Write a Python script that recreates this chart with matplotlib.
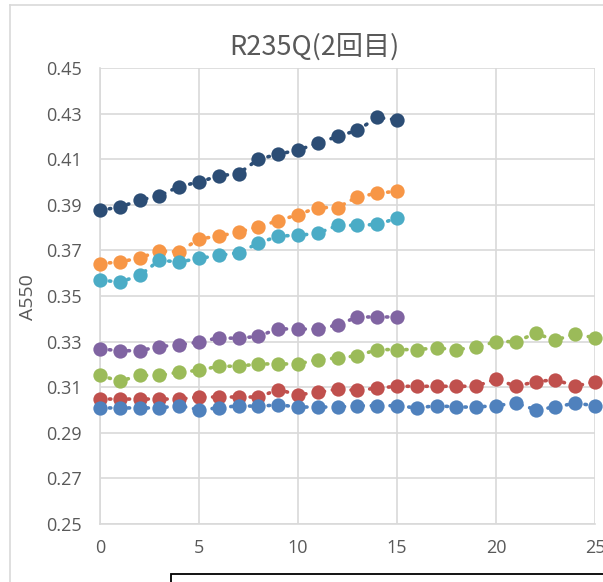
import matplotlib
matplotlib.use('Agg')
from matplotlib import pyplot as plt
from matplotlib.lines import Line2D
from matplotlib.patches import Rectangle

plt.rcParams['font.family'] = ['Noto Sans CJK JP', 'DejaVu Sans']

# Time points
x_short = list(range(16))
x_long = list(range(26))

# A550 readings per series
navy = [0.3876, 0.389, 0.392, 0.394, 0.398, 0.400, 0.4027, 0.4037, 0.410,
        0.4122, 0.414, 0.417, 0.420, 0.4227, 0.4283, 0.4273]
orange = [0.3642, 0.3649, 0.3667, 0.3697, 0.3694, 0.3750, 0.3763, 0.378,
          0.3804, 0.383, 0.3857, 0.3888, 0.3888, 0.3935, 0.395, 0.396]
cyan = [0.357, 0.3561, 0.359, 0.3657, 0.3649, 0.3665, 0.3678, 0.369,
        0.3731, 0.3763, 0.3766, 0.3775, 0.381, 0.381, 0.3814, 0.3841]
purple = [0.3268, 0.326, 0.326, 0.3278, 0.3286, 0.3298, 0.3317, 0.3314,
          0.3324, 0.3356, 0.3355, 0.3355, 0.3373, 0.3408, 0.3408, 0.3408]
green = [0.3152, 0.3126, 0.3152, 0.3152, 0.3166, 0.3174, 0.3192, 0.3192,
         0.3202, 0.3202, 0.3202, 0.3221, 0.3228, 0.3238, 0.3265, 0.3265,
         0.3265, 0.3272, 0.3265, 0.3275, 0.330, 0.330, 0.3336, 0.3306,
         0.3334, 0.3316]
red = [0.3048, 0.3048, 0.3048, 0.3048, 0.3048, 0.3057, 0.3057, 0.3057,
       0.3057, 0.3089, 0.3067, 0.3077, 0.3092, 0.3086, 0.3096, 0.3104,
       0.3104, 0.3104, 0.3104, 0.3104, 0.3136, 0.3104, 0.3124, 0.3133,
       0.3104, 0.3124]
blue = [0.3009, 0.3009, 0.3009, 0.3009, 0.3019, 0.3001, 0.3009, 0.3019,
        0.3016, 0.3023, 0.3013, 0.3013, 0.3013, 0.3019, 0.3019, 0.3019,
        0.3009, 0.3019, 0.3013, 0.3013, 0.3019, 0.3030, 0.3001, 0.3013,
        0.3030, 0.3019]

x_ticks = [0, 5, 10, 15, 20, 25]
y_ticks = [0.25, 0.27, 0.29, 0.31, 0.33, 0.35, 0.37, 0.39, 0.41, 0.43, 0.45]

series = [
    (x_short, navy, '#2C4D75'),
    (x_short, orange, '#F79646'),
    (x_short, cyan, '#4BACC6'),
    (x_short, purple, '#8064A2'),
    (x_long, green, '#9BBB59'),
    (x_long, red, '#C0504D'),
    (x_long, blue, '#4F81BD'),
]

fig = plt.figure(figsize=(6.03, 5.82), dpi=100)
ax = fig.add_axes([100 / 603, 1 - 524 / 582, 495 / 603, 456 / 582])

for xs, ys, c in series:
    ax.plot(xs, ys, color=c, linestyle=(0, (0.4, 2.2)), linewidth=2.6,
            dash_capstyle='round', clip_on=False, zorder=3)
    ax.plot(xs, ys, 'o', color=c, markersize=10.3, markeredgewidth=0,
            clip_on=False, zorder=4)

ax.set_xlim(0, 25)
ax.set_ylim(0.25, 0.45)
ax.set_xticks(x_ticks)
ax.set_yticks(y_ticks)
ax.set_yticklabels([f'{v:.2f}' for v in y_ticks])
ax.grid(True, color='#D9D9D9', linewidth=1.2, zorder=0)
ax.set_axisbelow(True)
for side in ['top', 'right']:
    ax.spines[side].set_visible(False)
for side in ['left', 'bottom']:
    ax.spines[side].set_color('#D9D9D9')
    ax.spines[side].set_linewidth(1.2)
ax.tick_params(length=0, labelsize=13, colors='#595959')
ax.tick_params(axis='x', pad=11)
ax.tick_params(axis='y', pad=13)
for lbl in ax.get_xticklabels() + ax.get_yticklabels():
    lbl.set_family(['Open Sans', 'DejaVu Sans'])

fig.text(314 / 603, 1 - 47 / 582, 'R235Q(2回目)', ha='center', va='center',
         fontsize=19.5, color='#595959')
fig.text(28 / 603, 1 - 297 / 582, 'A550', ha='center', va='center',
         rotation=90, fontsize=14, color='#595959',
         family=['Open Sans', 'DejaVu Sans'])

# chart area border and the box below it
fig.add_artist(Line2D([10 / 603, 1], [1 - 5 / 582, 1 - 5 / 582],
                      color='#D9D9D9', linewidth=1.2))
fig.add_artist(Line2D([10 / 603, 10 / 603], [0, 1 - 5 / 582],
                      color='#D9D9D9', linewidth=1.2))
fig.add_artist(Rectangle((171 / 603, -0.05), 1, 0.05 + 8 / 582,
                         facecolor='white', edgecolor='black', linewidth=1.3))

fig.savefig('out.png', dpi=100)
